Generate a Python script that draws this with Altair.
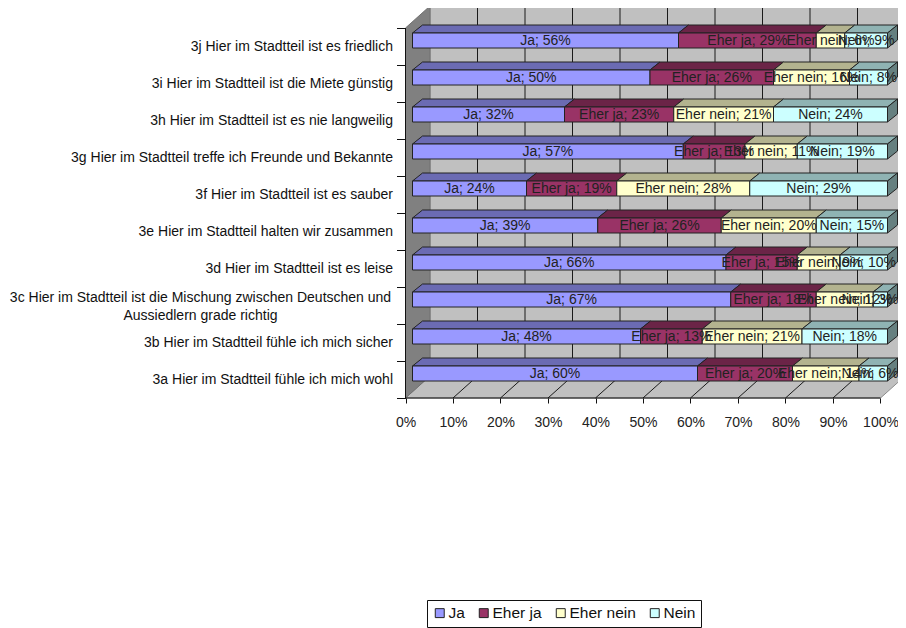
import altair as alt
import pandas as pd

questions = [
    "3a Hier im Stadtteil fühle ich mich wohl",
    "3b Hier im Stadtteil fühle ich mich sicher",
    "3c",
    "3d Hier im Stadtteil ist es leise",
    "3e Hier im Stadtteil halten wir zusammen",
    "3f Hier im Stadtteil ist es sauber",
    "3g Hier im Stadtteil treffe ich Freunde und Bekannte",
    "3h Hier im Stadtteil ist es nie langweilig",
    "3i Hier im Stadtteil ist die Miete günstig",
    "3j Hier im Stadtteil ist es friedlich",
]
line_3c_a = "3c Hier im Stadtteil ist die Mischung zwischen Deutschen und"
line_3c_b = "Aussiedlern grade richtig"
series = ["Ja", "Eher ja", "Eher nein", "Nein"]
ja = [60, 48, 67, 66, 39, 24, 57, 32, 50, 56]
eher_ja = [20, 13, 18, 15, 26, 19, 13, 23, 26, 29]
eher_nein = [14, 21, 12, 9, 20, 28, 11, 21, 16, 6]
nein = [6, 18, 3, 10, 15, 29, 19, 24, 8, 9]
x_ticks = [0, 10, 20, 30, 40, 50, 60, 70, 80, 90, 100]
front_colors = ["#9999FF", "#993366", "#FFFFCC", "#CCFFFF"]
top_colors = ["#6B6BB3", "#6B2447", "#B3B38F", "#8FB3B3"]
side_color = "#668080"

PXX, PXY = 4.75, 37.0          # px per percent / px per row
FONT = "Liberation Sans"
W, H = 890, 620
X0, Y0 = 405.5 - 8, 398 - 8    # axis origin inside the plot
xdom = [-X0 / PXX, (W - X0) / PXX]
ydom = [(Y0 - H) / PXY, Y0 / PXY]
xs = alt.Scale(domain=xdom, nice=False, zero=False)
ys = alt.Scale(domain=ydom, nice=False, zero=False)
DX, DY = 24.5 / PXX, 22.0 / PXY  # chart depth
BX, BY = 10.0 / PXX, 8.0 / PXY   # bar depth
FX = 7.0 / PXX                   # bar front offset
FB, BH = 17.0 / PXY, 15.0 / PXY  # bar front bottom above row floor, height
TOP = 10.0 + DY
LABEL_MAX = (897 - 27 - 405.5) / PXX  # keeps the last labels inside the picture

x_axis_def = alt.Axis(
    values=x_ticks, labelExpr="datum.value + '%'", domain=False, grid=False,
    offset=-(H - Y0), tickColor="#111111", tickSize=5, labelFont=FONT, labelFontSize=14,
    labelColor="#222222", labelPadding=12, labelFlush=False, labelOverlap=False, zindex=1,
)
y_axis_def = alt.Axis(
    values=list(range(11)), labels=False, domain=False, grid=False,
    offset=-X0, tickColor="#111111", tickSize=9, zindex=1,
)


def X(f, **kw):
    return alt.X(f, scale=xs, title=None, axis=x_axis_def, stack=None, **kw)


def Y(f, **kw):
    return alt.Y(f, scale=ys, title=None, axis=y_axis_def, stack=None, **kw)


seg, top, side, lab = [], [], [], []
for i in range(10):
    start = 0
    vals = [ja[i], eher_ja[i], eher_nein[i], nein[i]]
    y0, y1 = i + FB, i + FB + BH
    for s, v in enumerate(vals):
        a, b = start + FX, start + v + FX
        sid = f"{i}-{s}"
        seg.append(dict(a=a, b=b, y0=y0, y1=y1, s=series[s]))
        top.append(dict(id=sid, y=y1, a=a, b=b, f=top_colors[s]))
        top.append(dict(id=sid, y=y1 + BY, a=a + BX, b=b + BX, f=top_colors[s]))
        lab.append(dict(x=min((a + b) / 2, LABEL_MAX), y=(y0 + y1) / 2, t=f"{series[s]}; {v}%", o=len(lab)))
        start += v
    end = start + FX
    side.append(dict(id=i, x=end, y0=y0, y1=y1))
    side.append(dict(id=i, x=end + BX, y0=y0 + BY, y1=y1 + BY))
seg, top, side, lab = map(pd.DataFrame, (seg, top, side, lab))

# back wall
wall = alt.Chart(pd.DataFrame(dict(a=[DX], b=[100 + DX], y0=[DY], y1=[TOP]))).mark_rect(
    fill="#C0C0C0", stroke="#8C8C8C", strokeWidth=1
).encode(x=X("a:Q"), x2="b:Q", y=Y("y0:Q"), y2="y1:Q")

# floor
floor = alt.Chart(pd.DataFrame(dict(y=[0, DY], a=[0, DX], b=[100, 100 + DX]))).mark_area(
    orient="horizontal", fill="#C0C0C0", stroke="#8C8C8C", strokeWidth=1
).encode(y=Y("y:Q"), x=X("a:Q"), x2="b:Q")

# left wall
left = alt.Chart(pd.DataFrame(dict(x=[0, DX], y0=[0, DY], y1=[10, TOP]))).mark_area(
    orient="vertical", fill="#808080", stroke="#707070", strokeWidth=1
).encode(x=X("x:Q"), y=Y("y0:Q"), y2="y1:Q")

grid_back = alt.Chart(pd.DataFrame(dict(x=[v + DX for v in x_ticks[1:-1]], y0=[DY] * 9, y1=[TOP] * 9))).mark_rule(
    color="#1A1A1A", strokeWidth=1
).encode(x=X("x:Q"), y=Y("y0:Q"), y2="y1:Q")

grid_floor = alt.Chart(pd.DataFrame(dict(
    x=x_ticks[1:-1], x2=[v + DX for v in x_ticks[1:-1]], y0=[0] * 9, y1=[DY] * 9
))).mark_rule(color="#1A1A1A", strokeWidth=1).encode(
    x=X("x:Q"), x2="x2:Q", y=Y("y0:Q"), y2="y1:Q"
)

# axis lines
x_line = alt.Chart(pd.DataFrame(dict(x=[0], x2=[100], y=[0]))).mark_rule(color="#111111", strokeWidth=1).encode(
    x=X("x:Q"), x2="x2:Q", y=Y("y:Q")
)
y_line = alt.Chart(pd.DataFrame(dict(x=[0], y=[0], y2=[10]))).mark_rule(color="#111111", strokeWidth=1).encode(
    x=X("x:Q"), y=Y("y:Q"), y2="y2:Q"
)

# bars
tops = alt.Chart(top).mark_area(orient="horizontal", stroke="#222222", strokeWidth=1).encode(
    y=Y("y:Q"), x=X("a:Q"), x2="b:Q", detail="id:N", fill=alt.Fill("f:N", scale=None)
)
sides = alt.Chart(side).mark_area(orient="vertical", fill=side_color, stroke="#222222", strokeWidth=1).encode(
    x=X("x:Q"), y=Y("y0:Q"), y2="y1:Q", detail="id:N"
)
fronts = alt.Chart(seg).mark_rect(stroke="#222222", strokeWidth=1).encode(
    x=X("a:Q"), x2="b:Q", y=Y("y0:Q"), y2="y1:Q",
    color=alt.Color("s:N", scale=alt.Scale(domain=series, range=front_colors), title=None, legend=alt.Legend(
        orient="none", legendX=427 - 8, legendY=600 - 8, direction="horizontal", columns=4,
        strokeColor="#111111", padding=5, labelFont=FONT, labelFontSize=15.5, labelColor="#111111",
        symbolType="square", symbolSize=80, symbolStrokeColor="#222222", symbolStrokeWidth=1,
        columnPadding=11, labelOffset=1, title=None, symbolOpacity=1,
    )),
)
labels = alt.Chart(lab).mark_text(font=FONT, fontSize=14, color="#222222", align="center", baseline="middle").encode(
    x=X("x:Q"), y=Y("y:Q"), text="t:N", order="o:Q"
)

# category labels
cat_df = pd.DataFrame(dict(q=questions, y=[i + 0.5 - 0.6 / PXY for i in range(10)], x=[(393 - 405.5) / PXX] * 10))
cat_df = cat_df[cat_df.q != "3c"]
cats = alt.Chart(cat_df).mark_text(font=FONT, fontSize=14, color="#111111", align="right", baseline="middle").encode(
    x=X("x:Q"), y=Y("y:Q"), text="q:N"
)
c3 = alt.Chart(pd.DataFrame(dict(
    q=[line_3c_a, line_3c_b], y=[2.5 + 8 / PXY, 2.5 - 10 / PXY], x=[(200.5 - 405.5) / PXX] * 2
))).mark_text(font=FONT, fontSize=14, color="#111111", align="center", baseline="middle").encode(
    x=X("x:Q"), y=Y("y:Q"), text="q:N"
)

chart = alt.layer(
    wall, floor, left, grid_back, grid_floor, x_line, y_line, tops, sides, fronts, labels, cats, c3
).properties(
    width=W, height=H, padding=0, autosize=alt.AutoSizeParams(type="none"), background="white"
).configure_view(stroke=None)

chart.save("out.html", embed_options={"renderer": "svg", "actions": False})
